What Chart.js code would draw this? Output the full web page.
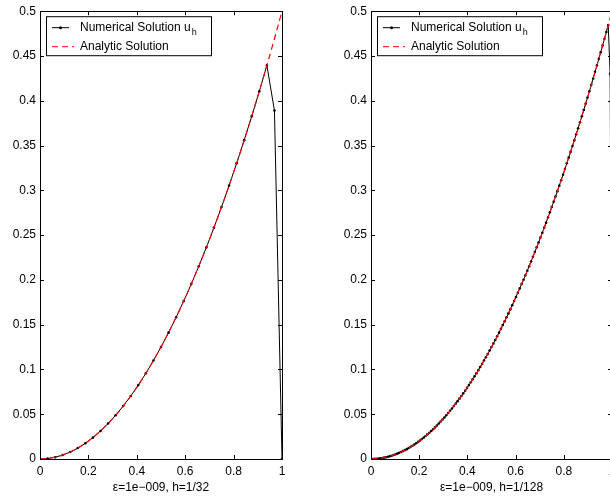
<!DOCTYPE html>
<html>
<head>
<meta charset="utf-8">
<script src="https://cdn.jsdelivr.net/npm/chart.js@4.4.1/dist/chart.umd.min.js"></script>
<style>
    html, body { margin: 0; padding: 0; background: #fff; overflow: hidden; }
    #wrap { position: relative; width: 610px; height: 498px; overflow: hidden; }
    .plot { position: absolute; top: 0; width: 300px; height: 498px; }
</style>
</head>
<body>
<div id="wrap">
    <div class="plot" style="left:0"><canvas id="chart-left"></canvas></div>
    <div class="plot" style="left:331px"><canvas id="chart-right"></canvas></div>
</div>
<script>
// ==========================================
// Data
// ==========================================
const xTicks = [0, 0.2, 0.4, 0.6, 0.8, 1];
const yTicks = [0, 0.05, 0.1, 0.15, 0.2, 0.25, 0.3, 0.35, 0.4, 0.45, 0.5];

// numerical solution, h = 1/32 (33 nodes)
const numLeft = [
    0, 0.0005, 0.0020, 0.0044, 0.0078, 0.0122, 0.0176, 0.0239, 0.0313, 0.0396,
    0.0488, 0.0591, 0.0703, 0.0825, 0.0957, 0.1099, 0.1250, 0.1411, 0.1582, 0.1763,
    0.1953, 0.2153, 0.2363, 0.2583, 0.2813, 0.3052, 0.3301, 0.3560, 0.3828, 0.4106,
    0.4395, 0.3890, 0
];

// numerical solution, h = 1/128 (129 nodes)
const numRight = [
    0, 0.0000, 0.0001, 0.0003, 0.0005, 0.0008, 0.0011, 0.0015, 0.0020, 0.0025,
    0.0031, 0.0037, 0.0044, 0.0052, 0.0060, 0.0069, 0.0078, 0.0088, 0.0099, 0.0110,
    0.0122, 0.0135, 0.0148, 0.0161, 0.0176, 0.0191, 0.0206, 0.0222, 0.0239, 0.0257,
    0.0275, 0.0293, 0.0313, 0.0332, 0.0353, 0.0374, 0.0396, 0.0418, 0.0441, 0.0464,
    0.0488, 0.0513, 0.0538, 0.0564, 0.0591, 0.0618, 0.0646, 0.0674, 0.0703, 0.0733,
    0.0763, 0.0794, 0.0825, 0.0857, 0.0890, 0.0923, 0.0957, 0.0992, 0.1027, 0.1062,
    0.1099, 0.1136, 0.1173, 0.1211, 0.1250, 0.1289, 0.1329, 0.1370, 0.1411, 0.1453,
    0.1495, 0.1538, 0.1582, 0.1626, 0.1671, 0.1717, 0.1763, 0.1809, 0.1857, 0.1905,
    0.1953, 0.2002, 0.2052, 0.2102, 0.2153, 0.2205, 0.2257, 0.2310, 0.2363, 0.2417,
    0.2472, 0.2527, 0.2583, 0.2639, 0.2697, 0.2754, 0.2813, 0.2871, 0.2931, 0.2991,
    0.3052, 0.3113, 0.3175, 0.3238, 0.3301, 0.3365, 0.3429, 0.3494, 0.3560, 0.3626,
    0.3693, 0.3760, 0.3828, 0.3897, 0.3966, 0.4036, 0.4106, 0.4178, 0.4249, 0.4322,
    0.4395, 0.4468, 0.4542, 0.4617, 0.4692, 0.4768, 0.4845, 0.4300, 0
];

// analytic solution sampled on the coarse grid (33 nodes)
const analytic = [
    0, 0.0005, 0.0020, 0.0044, 0.0078, 0.0122, 0.0176, 0.0239, 0.0313, 0.0396,
    0.0488, 0.0591, 0.0703, 0.0825, 0.0957, 0.1099, 0.1250, 0.1411, 0.1582, 0.1763,
    0.1953, 0.2153, 0.2363, 0.2583, 0.2813, 0.3052, 0.3301, 0.3560, 0.3828, 0.4106,
    0.4395, 0.4692, 0.5000
];

const labelLeft = 'ε=1e−009, h=1/32';
const labelRight = 'ε=1e−009, h=1/128';

const FONT = '"Liberation Sans", Arial, Helvetica, sans-serif';

// turn a list of values on a uniform grid of [0,1] into {x,y} points
function toPoints(values) {
    const n = values.length - 1;
    return values.map((v, i) => ({ x: i / n, y: v }));
}

// ==========================================
// Plugin: MATLAB style frame, inward ticks, legend
// ==========================================
const matlabFrame = {
    id: 'matlabFrame',
    afterDraw(chart) {
        const ctx = chart.ctx;
        const a = chart.chartArea;
        const sx = chart.scales.x, sy = chart.scales.y;
        ctx.save();
        ctx.strokeStyle = '#000';
        ctx.lineWidth = 1;
        ctx.strokeRect(Math.round(a.left) + 0.5, Math.round(a.top) + 0.5,
            Math.round(a.right - a.left), Math.round(a.bottom - a.top));
        ctx.beginPath();
        xTicks.forEach(t => {
            const px = Math.round(sx.getPixelForValue(t)) + 0.5;
            ctx.moveTo(px, a.bottom); ctx.lineTo(px, a.bottom - 4);
            ctx.moveTo(px, a.top); ctx.lineTo(px, a.top + 4);
        });
        yTicks.forEach(t => {
            const py = Math.round(sy.getPixelForValue(t)) + 0.5;
            ctx.moveTo(a.left, py); ctx.lineTo(a.left + 4, py);
            ctx.moveTo(a.right, py); ctx.lineTo(a.right - 4, py);
        });
        ctx.stroke();

        // legend
        const lx = a.left + 6, ly = a.top + 5, lw = 165, lh = 39;
        ctx.fillStyle = '#fff';
        ctx.fillRect(lx, ly, lw, lh);
        ctx.strokeRect(lx + 0.5, ly + 0.5, lw, lh);
        const y1 = ly + 11.5, y2 = ly + 30.5;
        ctx.beginPath();
        ctx.moveTo(lx + 6, y1); ctx.lineTo(lx + 23, y1);
        ctx.stroke();
        ctx.beginPath();
        ctx.arc(lx + 14.5, y1, 1.5, 0, Math.PI * 2);
        ctx.fillStyle = '#000';
        ctx.fill();
        ctx.strokeStyle = '#ff0000';
        ctx.setLineDash([6, 4]);
        ctx.beginPath();
        ctx.moveTo(lx + 6, y2); ctx.lineTo(lx + 28, y2);
        ctx.stroke();
        ctx.setLineDash([]);
        ctx.fillStyle = '#000';
        ctx.font = '12px ' + FONT;
        ctx.textBaseline = 'middle';
        ctx.textAlign = 'left';
        const txt = 'Numerical Solution u';
        ctx.fillText(txt, lx + 34, y1);
        const w = ctx.measureText(txt).width;
        ctx.font = '9px ' + FONT;
        ctx.fillText('h', lx + 34 + w + 1, y1 + 5);
        ctx.font = '12px ' + FONT;
        ctx.fillText('Analytic Solution', lx + 34, y2);
        ctx.restore();
    }
};

// ==========================================
// Build one subplot
// ==========================================
function makePlot(canvasId, numValues, xLabel, padRight) {
    const ctx = document.getElementById(canvasId);
    return new Chart(ctx, {
        type: 'line',
        data: {
            datasets: [
                {
                    label: 'Analytic Solution',
                    data: toPoints(analytic),
                    borderColor: '#ff0000',
                    borderWidth: 1.2,
                    borderDash: [6, 4],
                    pointRadius: 0,
                    tension: 0.4,
                    cubicInterpolationMode: 'monotone',
                    order: 1
                },
                {
                    label: 'Numerical Solution',
                    data: toPoints(numValues),
                    borderColor: '#000',
                    backgroundColor: '#000',
                    borderWidth: 1,
                    pointRadius: 1.3,
                    pointBorderWidth: 0,
                    tension: 0,
                    order: 2
                }
            ]
        },
        options: {
            responsive: true,
            maintainAspectRatio: false,
            animation: false,
            layout: { padding: { top: 0, right: padRight, left: 0, bottom: 0 } },
            plugins: { legend: { display: false }, tooltip: { enabled: false } },
            scales: {
                x: {
                    type: 'linear',
                    min: 0, max: 1,
                    afterBuildTicks: s => { s.ticks = xTicks.map(v => ({ value: v })); },
                    afterFit: s => { s.height = 39; },
                    grid: { display: false, drawTicks: false },
                    border: { display: false },
                    ticks: {
                        color: '#000',
                        font: { family: FONT, size: 12 },
                        padding: 5,
                        maxRotation: 0,
                        callback: v => String(+v.toFixed(2))
                    },
                    title: {
                        display: true,
                        text: xLabel,
                        color: '#000',
                        font: { family: FONT, size: 12 },
                        padding: { top: 0, bottom: 3 }
                    }
                },
                y: {
                    type: 'linear',
                    min: 0, max: 0.5,
                    afterBuildTicks: s => { s.ticks = yTicks.map(v => ({ value: v })); },
                    afterFit: s => { s.width = 40; },
                    grid: { display: false, drawTicks: false },
                    border: { display: false },
                    ticks: {
                        color: '#000',
                        font: { family: FONT, size: 12 },
                        padding: 4,
                        callback: v => String(+v.toFixed(2))
                    }
                }
            }
        },
        plugins: [matlabFrame]
    });
}

makePlot('chart-left', numLeft, labelLeft, 18);
makePlot('chart-right', numRight, labelRight, 19);
</script>
</body>
</html>
